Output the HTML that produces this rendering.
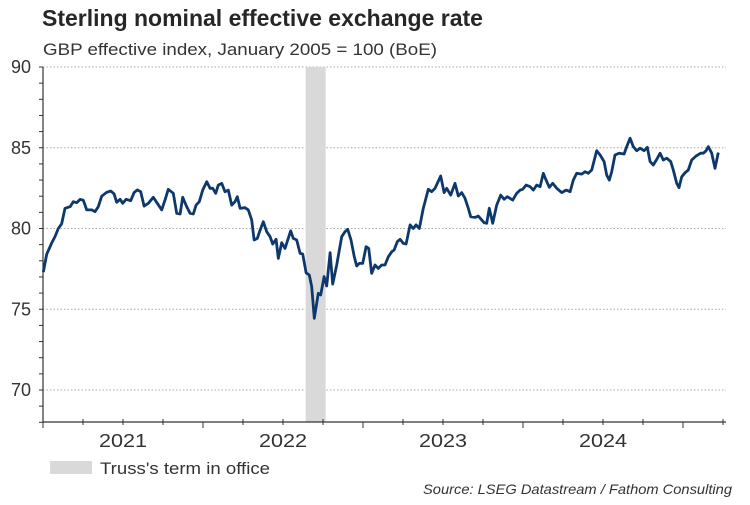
<!DOCTYPE html>
<html><head><meta charset="utf-8"><style>
body{margin:0;background:#fff;font-family:"Liberation Sans",Arial,sans-serif;}
svg text{font-family:"Liberation Sans",Arial,sans-serif;}
</style></head><body>
<svg id="chart" width="750" height="500" xmlns="http://www.w3.org/2000/svg">
<text x="42" y="26" font-size="23" font-weight="bold" fill="#262626">Sterling nominal effective exchange rate</text>
<text x="43" y="55" font-size="16.5" fill="#333" textLength="394" lengthAdjust="spacingAndGlyphs">GBP effective index, January 2005 = 100 (BoE)</text>
<g id="grid"></g>
<g id="shade"></g>
<g id="axes"></g>
<g id="series"></g>
<rect x="50" y="461" width="42" height="13" fill="#d9d9d9"/>
<text x="100" y="474" font-size="17" fill="#333" textLength="170" lengthAdjust="spacingAndGlyphs">Truss's term in office</text>
<text x="732" y="494" font-size="14" font-style="italic" fill="#333" text-anchor="end" textLength="309" lengthAdjust="spacingAndGlyphs">Source: LSEG Datastream / Fathom Consulting</text>
</svg>
<script>
const months=[0.02,0.28,0.65,0.9,1.15,1.4,1.65,2.03,2.27,2.53,2.78,3.02,3.28,3.65,3.9,4.15,4.4,4.78,5.08,5.33,5.53,5.78,5.98,6.23,6.58,6.83,7.07,7.33,7.58,7.9,8.27,8.57,8.9,9.15,9.4,9.77,10.03,10.28,10.48,10.78,11.03,11.27,11.48,11.72,11.98,12.28,12.53,12.73,12.95,13.15,13.4,13.65,13.9,14.15,14.4,14.57,14.78,15.15,15.4,15.65,15.83,16.07,16.28,16.52,16.78,17.03,17.23,17.48,17.65,17.9,18.15,18.58,18.77,19.03,19.28,19.48,19.73,19.97,20.15,20.35,20.65,20.83,21.08,21.28,21.53,21.73,22.03,22.4,22.65,22.85,23.1,23.35,23.53,23.72,23.98,24.23,24.43,24.65,24.9,25.15,25.4,25.65,25.9,26.15,26.33,26.57,26.78,27.02,27.23,27.53,27.77,27.98,28.22,28.52,28.9,29.15,29.4,29.83,30.08,30.28,30.58,30.9,31.15,31.4,31.65,31.9,32.08,32.4,32.65,33.08,33.28,33.47,33.73,34.03,34.33,34.58,34.82,35.23,35.53,35.78,35.98,36.23,36.53,36.77,37.03,37.28,37.52,37.73,37.97,38.23,38.53,38.9,39.23,39.53,39.77,40.03,40.4,40.65,40.9,41.15,41.53,41.78,42.08,42.28,42.47,42.65,42.9,43.22,43.58,43.78,44.03,44.27,44.53,44.78,45.08,45.32,45.53,45.77,46.03,46.28,46.52,46.78,47.08,47.27,47.53,47.7,47.9,48.15,48.4,48.65,48.98,49.33,49.53,49.73,49.9,50.15,50.4,50.65];
const values=[77.3,78.4,79.1,79.5,80.0,80.3,81.25,81.35,81.66,81.6,81.8,81.75,81.15,81.15,81.04,81.35,82.0,82.24,82.32,82.14,81.62,81.81,81.56,81.81,81.72,82.22,82.39,82.28,81.39,81.56,81.93,81.56,81.15,81.76,82.43,82.18,80.94,80.9,81.93,81.35,80.94,80.9,81.45,81.66,82.38,82.9,82.49,82.49,82.18,82.69,82.8,82.28,82.38,81.45,81.66,81.97,81.25,81.29,81.15,80.53,79.29,79.39,79.9,80.42,79.8,79.49,79.04,79.33,78.15,79.12,78.77,79.86,79.39,79.29,78.46,78.42,77.26,77.12,76.4,74.44,75.99,75.88,77.02,76.44,78.5,76.56,77.74,79.49,79.8,79.95,79.29,78.25,77.68,77.84,77.84,78.87,78.77,77.22,77.74,77.53,77.74,77.74,78.25,78.56,78.67,79.18,79.33,79.08,79.04,80.22,80.0,80.22,80.0,81.25,82.43,82.28,82.49,83.25,82.22,82.49,82.07,82.8,82.01,82.22,81.87,81.25,80.73,80.69,80.77,80.36,80.32,81.25,80.32,81.45,82.07,81.81,81.97,81.76,82.18,82.38,82.43,82.69,82.59,82.38,82.69,82.59,83.42,83.0,82.55,82.8,82.49,82.22,82.38,82.28,83.0,83.42,83.37,83.52,83.42,83.62,84.82,84.55,84.14,83.31,83.0,83.52,84.55,84.66,84.61,85.07,85.59,85.07,84.82,84.97,84.82,85.03,84.14,83.93,84.28,84.66,84.24,84.35,84.14,83.62,82.8,82.53,83.2,83.45,83.62,84.24,84.49,84.66,84.66,84.82,85.07,84.66,83.73,84.7];
const yTicks=[70,75,80,85,90];
const yearLabels=["2021","2022","2023","2024"];
const shadeRange=[19.7,21.2];
const NS="http://www.w3.org/2000/svg";
const X0=43,X1=726,Y0=422;
function xs(m){return X0+m*(160/12);}
function ys(v){return 390-(v-70)*(323/20);}
function mk(p,tag,a){const e=document.createElementNS(NS,tag);for(const k in a)e.setAttribute(k,a[k]);p.appendChild(e);return e;}
const grid=document.getElementById('grid'),axes=document.getElementById('axes'),shade=document.getElementById('shade'),series=document.getElementById('series');
yTicks.forEach(t=>{
  const l=mk(grid,'line',{x1:X0,x2:X1,y1:ys(t),y2:ys(t),stroke:'#aaa','stroke-width':1,'stroke-dasharray':'1.5,2'});
  
  
  const tx=mk(axes,'text',{x:31,y:ys(t)+6,'font-size':18,fill:'#333','text-anchor':'end'});
  tx.textContent=t;
  
  
});
for(let v=68;v<=90;v++){mk(axes,'line',{x1:X0-4,x2:X0,y1:ys(v),y2:ys(v),stroke:'#333','stroke-width':1});}
const r=mk(shade,'rect',{x:xs(shadeRange[0]),y:ys(90),width:xs(shadeRange[1])-xs(shadeRange[0]),height:Y0-ys(90),fill:'#d9d9d9'});


mk(axes,'line',{x1:X0,x2:X0,y1:ys(90),y2:Y0,stroke:'#333','stroke-width':1.2});
mk(axes,'line',{x1:X0,x2:X1,y1:Y0,y2:Y0,stroke:'#333','stroke-width':1.2});
for(let q=0;q<=17;q++){const x=xs(q*3);if(x>X1)break;
  if(q%4===0)mk(axes,'line',{x1:x,x2:x,y1:Y0,y2:Y0+6,stroke:'#333','stroke-width':1});
  else mk(axes,'line',{x1:x,x2:x,y1:Y0-3,y2:Y0+3,stroke:'#333','stroke-width':1});}
yearLabels.forEach((y,i)=>{
  const t=mk(axes,'text',{x:xs(i*12+6),y:447,'font-size':18,fill:'#333','text-anchor':'middle',textLength:48,lengthAdjust:'spacingAndGlyphs'});
  t.textContent=y;
  
  
});
const d=months.map((m,i)=>(i?'L':'M')+xs(m).toFixed(1)+','+ys(values[i]).toFixed(1)).join(' ');
const p=mk(series,'path',{d:d,fill:'none',stroke:'#0d386b','stroke-width':2.8,'stroke-linejoin':'round'});


</script>
</body></html>
